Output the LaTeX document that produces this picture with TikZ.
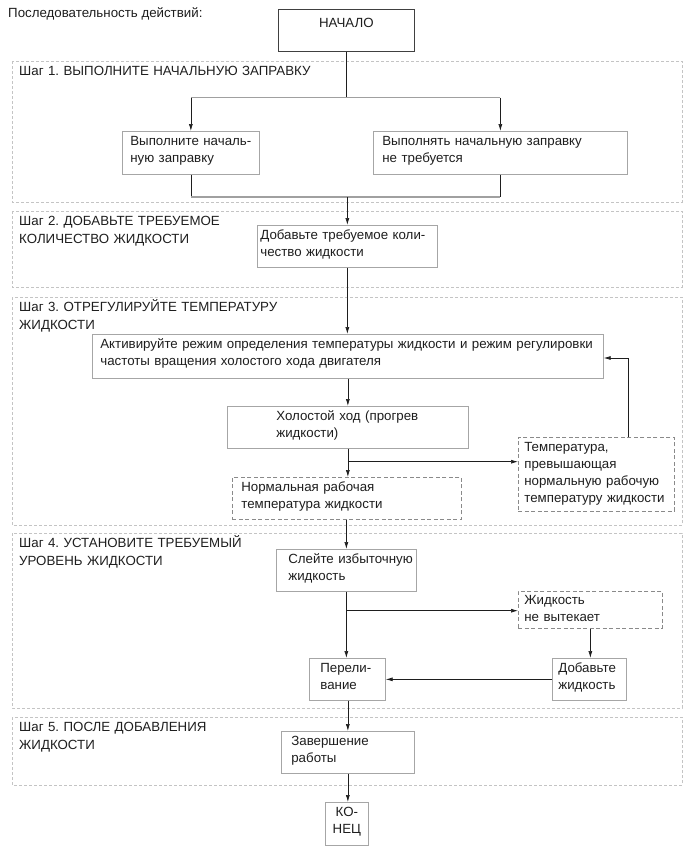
\documentclass[tikz,border=0pt]{standalone}
\usepackage{fontspec}
\setmainfont{Liberation Sans}
\usetikzlibrary{arrows.meta}
\definecolor{boxgray}{HTML}{A6A6A6}
\definecolor{dashgray}{HTML}{8A8A8A}
\definecolor{framegray}{HTML}{C4C4C4}
\definecolor{linegray}{HTML}{A0A0A0}
\definecolor{ink}{HTML}{1E1E1E}
\hyphenpenalty=10000
\exhyphenpenalty=10000
\frenchspacing

\begin{document}
\begin{tikzpicture}[x=1pt, y=-1pt,
        every node/.style={font=\fontsize{13.3}{17}\selectfont, text=ink},
        box/.style={draw=boxgray, line width=0.7pt, anchor=north west, align=left, inner sep=0pt, text height=14pt},
        dbox/.style={box, draw=dashgray, dash pattern=on 4pt off 2.5pt},
        pad/.style={execute at begin node={\leftskip=#1\relax}},
        stepframe/.style={draw=framegray, line width=0.6pt, dash pattern=on 3pt off 2pt},
        steplbl/.style={anchor=north west, align=left, text width=330pt, inner xsep=7pt, inner ysep=0pt, text height=14pt, font=\fontsize{13.3}{18}\selectfont},
        flow/.style={draw=ink, line width=0.7pt},
        arr/.style={flow, -{Latex[length=7pt,width=4pt]}},
        junction/.style={draw=linegray, line width=1.3pt}]
        \useasboundingbox (0,0) rectangle (691,854);

        \node[anchor=base west, inner sep=0pt] (title) at (8,17) {Последовательность действий:};

        \draw[stepframe] (12,61) rectangle (682,202);
        \draw[stepframe] (12,211) rectangle (682,287);
        \draw[stepframe] (12,297) rectangle (682,525);
        \draw[stepframe] (12,533) rectangle (682,708);
        \draw[stepframe] (12,717) rectangle (682,785);
        \node[steplbl] (s1) at (12,61) {Шаг 1. ВЫПОЛНИТЕ НАЧАЛЬНУЮ ЗАПРАВКУ};
        \node[steplbl] (s2) at (12,211) {Шаг 2. ДОБАВЬТЕ ТРЕБУЕМОЕ\\КОЛИЧЕСТВО ЖИДКОСТИ};
        \node[steplbl] (s3) at (12,297) {Шаг 3. ОТРЕГУЛИРУЙТЕ ТЕМПЕРАТУРУ\\ЖИДКОСТИ};
        \node[steplbl] (s4) at (12,533) {Шаг 4. УСТАНОВИТЕ ТРЕБУЕМЫЙ\\УРОВЕНЬ ЖИДКОСТИ};
        \node[steplbl] (s5) at (12,717) {Шаг 5. ПОСЛЕ ДОБАВЛЕНИЯ\\ЖИДКОСТИ};

        \node[box, draw=ink!85, align=center, text width=136pt, text height=18pt, text depth=24pt] (start) at (278,9) {НАЧАЛО};
        \node[box, text width=137pt, pad=8pt, text depth=29pt] (firstfill) at (122,131) {Выполните началь-\\ную заправку};
        \node[box, text width=254pt, pad=9pt, text depth=29pt] (nofill) at (373,131) {Выполнять начальную заправку\\не требуется};
        \node[box, text width=180pt, pad=3pt, text depth=28pt] (add) at (257,225) {Добавьте требуемое коли-\\чество жидкости};
        \node[box, text width=511pt, pad=8pt, text depth=30pt] (activ) at (92,334) {Активируйте режим определения температуры жидкости и режим регулировки\\частоты вращения холостого хода двигателя};
        \node[box, text width=241pt, pad=49pt, text depth=28pt] (idle) at (227,406) {Холостой ход (прогрев\\жидкости)};
        \node[dbox, text width=229pt, pad=9pt, text depth=28pt] (normal) at (232,477) {Нормальная рабочая\\температура жидкости};
        \node[dbox, text width=156pt, pad=6pt, text depth=60pt] (hot) at (518,437) {Температура,\\превышающая\\нормальную рабочую\\температуру жидкости};
        \node[box, text width=140pt, pad=12pt, text depth=28pt] (drain) at (276,549) {Слейте избыточную\\жидкость};
        \node[dbox, text width=144pt, pad=6pt, text height=13pt, text depth=24pt] (leak) at (518,591) {Жидкость\\не вытекает};
        \node[box, text width=76pt, pad=11pt, text depth=28pt] (overflow) at (309,658) {Перели-\\вание};
        \node[box, text width=74pt, pad=6pt, text depth=28pt] (addf) at (552,658) {Добавьте\\жидкость};
        \node[box, text width=133pt, pad=10pt, text depth=28pt] (finish) at (281,731) {Завершение\\работы};
        \node[box, align=center, text width=43pt, text depth=29pt] (stop) at (325,802) {КО-\\НЕЦ};

        \path (start.south) ++(0,46) coordinate (j1);
        \path (add.north) ++(0,-28) coordinate (j2);
        \path (idle.south) ++(0,13) coordinate (b3);
        \path (hot.north) ++(32,-79) coordinate (r3);
        \path (drain.south) ++(0,19) coordinate (b4);

        \draw[flow] (start.south) -- (j1);
        \draw[junction] (j1 -| firstfill.north) -- (j1 -| nofill.north);
        \draw[arr] (j1 -| firstfill.north) -- (firstfill.north);
        \draw[arr] (j1 -| nofill.north) -- (nofill.north);
        \draw[flow] (firstfill.south) -- (firstfill.south |- j2);
        \draw[flow] (nofill.south) -- (nofill.south |- j2);
        \draw[junction] (firstfill.south |- j2) -- (nofill.south |- j2);
        \draw[arr] (j2) -- (add.north);
        \draw[arr] (add.south) -- (add.south |- activ.north);
        \draw[arr] (activ.south -| idle.north) -- (idle.north);
        \draw[arr] (idle.south) -- (idle.south |- normal.north);
        \draw[arr] (b3) -- (b3 -| hot.west);
        \draw[arr] (r3 |- hot.north) -- (r3) -- (r3 -| activ.east);
        \draw[arr] (normal.south -| drain.north) -- (drain.north);
        \draw[arr] (drain.south) -- (drain.south |- overflow.north);
        \draw[arr] (b4) -- (b4 -| leak.west);
        \draw[arr] (leak.south) -- (leak.south |- addf.north);
        \draw[arr] (addf.west) -- (overflow.east);
        \draw[arr] (overflow.south -| finish.north) -- (finish.north);
        \draw[arr] (finish.south) -- (finish.south |- stop.north);
    \end{tikzpicture}
\end{document}
